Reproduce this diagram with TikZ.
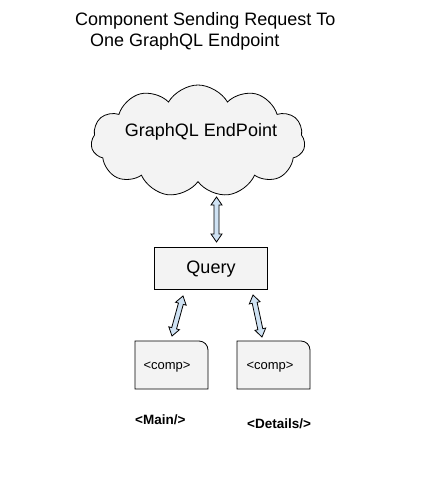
\documentclass[tikz,border=0pt]{standalone}
\usepackage{fontspec}
\setmainfont{Liberation Sans}
\usetikzlibrary{shapes.symbols,calc}
\definecolor{boxgray}{HTML}{F3F3F3}
\definecolor{arrowblue}{HTML}{CFE2F3}
\tikzset{
  titletext/.style={anchor=base west,inner sep=0pt,font=\fontsize{18}{20}\selectfont},
  boxtext/.style={font=\fontsize{18}{20}\selectfont},
  arrowshape/.style={fill=arrowblue,draw=black,line width=0.8pt,line join=miter},
  comptext/.style={font=\fontsize{13}{15}\selectfont,anchor=base,inner sep=0pt},
  tagtext/.style={font=\bfseries\fontsize{13.5}{15}\selectfont,anchor=base west,inner sep=0pt},
  compbox/.style={fill=boxgray,draw=black,line width=0.8pt}
}
\newcommand\fatdarrow[2]{%
  \path[arrowshape] (#1)
   -- ($(#1)!8pt!(#2)!5.5pt!90:(#2)$)
   -- ($(#1)!8pt!(#2)!2.5pt!90:(#2)$)
   -- ($(#2)!8pt!(#1)!2.5pt!-90:(#1)$)
   -- ($(#2)!8pt!(#1)!5.5pt!-90:(#1)$)
   -- (#2)
   -- ($(#2)!8pt!(#1)!5.5pt!90:(#1)$)
   -- ($(#2)!8pt!(#1)!2.5pt!90:(#1)$)
   -- ($(#1)!8pt!(#2)!2.5pt!-90:(#2)$)
   -- ($(#1)!8pt!(#2)!5.5pt!-90:(#2)$)
   -- cycle;}
\begin{document}
\begin{tikzpicture}[x=1pt,y=-1pt]
\useasboundingbox[fill=white] (0,0) rectangle (438,481);
\node[titletext] (t1) at (75,26) {Component Sending Request To};
\node[titletext] (t2) at (90,47) {One GraphQL Endpoint};
\node[cloud, cloud puffs=11, cloud puff arc=120, aspect=1.9, draw=black, fill=boxgray,
  line width=0.8pt, minimum width=214pt, minimum height=112pt, inner sep=0pt] (cloud) at (198,141) {};
\node[boxtext,anchor=base,inner sep=0pt] (cl) at (201,137) {GraphQL EndPoint};
\node[draw=black,fill=boxgray,line width=0.8pt,minimum width=113pt,minimum height=42pt,inner sep=0pt] (query) at (210.5,268) {};
\node[boxtext,anchor=base,inner sep=0pt] (ql) at (211,273) {Query};
\path[compbox] (135,389) -- (135,341) -- (199,341) arc[start angle=-90,end angle=0,radius=9] -- (208,389) -- cycle;
\path[compbox] (237,389) -- (237,341) -- (301,341) arc[start angle=-90,end angle=0,radius=9] -- (310,389) -- cycle;
\node[comptext] (comp1) at (167,369) {<comp>};
\node[comptext] (comp2) at (270,369) {<comp>};
\node[tagtext] (main) at (135,424) {<Main/>};
\node[tagtext] (det) at (247,428) {<Details/>};
\coordinate (a1s) at (216.5,197);
\coordinate (a1e) at (216.5,242);
\coordinate (a2s) at (183,296);
\coordinate (a2e) at (172,336);
\coordinate (a3s) at (253,295);
\coordinate (a3e) at (262,337);
\fatdarrow{a1s}{a1e}
\fatdarrow{a2s}{a2e}
\fatdarrow{a3s}{a3e}
\end{tikzpicture}
\end{document}
